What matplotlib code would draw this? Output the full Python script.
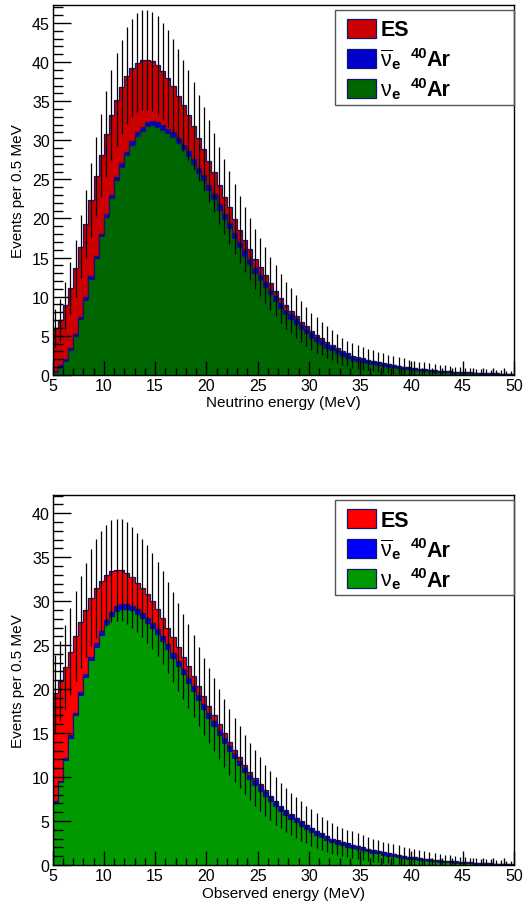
import numpy as np
import matplotlib
matplotlib.use('Agg')
import matplotlib.pyplot as plt
from matplotlib.patches import Rectangle

plt.rcParams['font.family'] = ['Liberation Sans', 'DejaVu Sans']
plt.rcParams['mathtext.fontset'] = 'custom'
plt.rcParams['mathtext.rm'] = 'Liberation Sans'
plt.rcParams['mathtext.it'] = 'Liberation Sans:italic'
plt.rcParams['mathtext.bf'] = 'Liberation Sans:bold'

# 0.5 MeV bins from 5 to 50 MeV
edges = np.arange(5.0, 50.01, 0.5)

# ---- top panel: neutrino energy ----
total_nu = [6.0, 7.0, 8.9, 11.1, 13.6, 16.4, 19.3, 22.4, 25.4, 28.1,
            30.8, 33.2, 35.2, 36.8, 38.25, 39.2, 39.9, 40.25, 40.25, 40.1,
            39.6, 38.8, 37.9, 36.9, 35.7, 34.45, 33.2, 31.8, 30.25, 28.9,
            27.3, 25.9, 24.25, 22.8, 21.4, 19.9, 18.55, 17.3, 16.1, 14.8,
            13.75, 12.75, 11.7, 10.75, 9.77, 8.9, 8.2, 7.5, 6.8, 6.2,
            5.6, 5.1, 4.65, 4.2, 3.8, 3.37, 3.0, 2.73, 2.45, 2.25,
            2.1, 1.95, 1.8, 1.65, 1.5, 1.38, 1.27, 1.16, 1.06, 0.97,
            0.88, 0.8, 0.73, 0.66, 0.6, 0.54, 0.49, 0.44, 0.40, 0.36,
            0.33, 0.30, 0.27, 0.24, 0.22, 0.20, 0.18, 0.16, 0.14, 0.13]
es_nu = [5.55, 5.8, 6.9, 7.7, 8.35, 8.95, 9.4, 9.8, 10.2, 10.05,
         10.2, 10.2, 9.9, 9.75, 9.7, 9.35, 8.9, 8.55, 7.95, 7.65,
         7.3, 6.9, 6.4, 5.9, 5.4, 5.0, 4.6, 4.2, 3.8, 3.4,
         3.05, 2.75, 2.45, 2.2, 1.95, 1.75, 1.55, 1.4, 1.25, 1.12,
         1.0, 0.9, 0.8, 0.7, 0.62, 0.55, 0.48, 0.42, 0.37, 0.33,
         0.29, 0.26, 0.23, 0.2, 0.18, 0.16, 0.14, 0.12, 0.11, 0.1,
         0.09, 0.08, 0.07, 0.065, 0.06, 0.05, 0.045, 0.04, 0.035, 0.03,
         0.03, 0.025, 0.02, 0.02, 0.02, 0.015, 0.015, 0.01, 0.01, 0.01,
         0.01, 0.01, 0.01, 0.01, 0.01, 0.01, 0.01, 0.01, 0.01, 0.01]
nuebar_nu = [0.15, 0.18, 0.2, 0.22, 0.24, 0.26, 0.28, 0.3, 0.32, 0.34,
             0.36, 0.38, 0.4, 0.42, 0.44, 0.46, 0.48, 0.5, 0.52, 0.54,
             0.55, 0.56, 0.57, 0.58, 0.59, 0.6, 0.61, 0.62, 0.63, 0.64,
             0.65, 0.65, 0.66, 0.66, 0.66, 0.66, 0.66, 0.66, 0.65, 0.65,
             0.64, 0.63, 0.62, 0.61, 0.6, 0.59, 0.58, 0.57, 0.56, 0.55,
             0.54, 0.53, 0.52, 0.51, 0.5, 0.48, 0.46, 0.44, 0.42, 0.40,
             0.38, 0.36, 0.34, 0.32, 0.30, 0.28, 0.27, 0.25, 0.24, 0.22,
             0.21, 0.2, 0.18, 0.17, 0.16, 0.15, 0.14, 0.13, 0.12, 0.11,
             0.1, 0.09, 0.085, 0.08, 0.07, 0.065, 0.06, 0.055, 0.05, 0.045]

# ---- bottom panel: observed energy ----
total_obs = [19.5, 20.9, 22.5, 24.25, 26.0, 27.6, 29.0, 30.4, 31.45, 32.3,
             32.95, 33.4, 33.55, 33.5, 33.2, 32.7, 32.1, 31.5, 30.8, 30.0,
             29.1, 28.1, 27.0, 25.9, 24.8, 23.7, 22.6, 21.5, 20.3, 19.2,
             18.1, 17.1, 16.0, 15.0, 14.0, 13.1, 12.25, 11.4, 10.6, 9.9,
             9.2, 8.5, 7.9, 7.3, 6.75, 6.25, 5.8, 5.4, 5.0, 4.6,
             4.25, 3.9, 3.6, 3.3, 3.0, 2.8, 2.6, 2.45, 2.3, 2.15,
             2.0, 1.85, 1.7, 1.6, 1.45, 1.35, 1.25, 1.15, 1.05, 0.95,
             0.87, 0.8, 0.72, 0.65, 0.6, 0.54, 0.48, 0.44, 0.40, 0.36,
             0.32, 0.29, 0.26, 0.23, 0.21, 0.19, 0.17, 0.15, 0.13, 0.12]
es_obs = [12.2, 11.3, 10.35, 9.5, 8.7, 7.95, 7.3, 6.75, 6.2, 5.7,
          5.1, 4.6, 4.15, 3.8, 3.5, 3.2, 3.0, 2.85, 2.7, 2.5,
          2.3, 2.1, 1.9, 1.75, 1.6, 1.45, 1.3, 1.15, 1.0, 0.9,
          0.8, 0.72, 0.65, 0.58, 0.52, 0.46, 0.41, 0.36, 0.32, 0.28,
          0.25, 0.22, 0.19, 0.17, 0.15, 0.13, 0.11, 0.1, 0.09, 0.08,
          0.07, 0.06, 0.055, 0.05, 0.045, 0.04, 0.035, 0.03, 0.03, 0.025,
          0.02, 0.02, 0.02, 0.02, 0.02, 0.02, 0.02, 0.02, 0.02, 0.02,
          0.01, 0.01, 0.01, 0.01, 0.01, 0.01, 0.01, 0.01, 0.01, 0.01,
          0.01, 0.01, 0.01, 0.01, 0.01, 0.01, 0.01, 0.01, 0.01, 0.01]
nuebar_obs = [0.2, 0.22, 0.25, 0.28, 0.3, 0.33, 0.36, 0.4, 0.43, 0.46,
              0.48, 0.5, 0.52, 0.54, 0.55, 0.56, 0.57, 0.58, 0.58, 0.58,
              0.58, 0.58, 0.58, 0.58, 0.58, 0.57, 0.57, 0.56, 0.56, 0.55,
              0.55, 0.54, 0.54, 0.53, 0.53, 0.52, 0.52, 0.51, 0.51, 0.5,
              0.5, 0.49, 0.48, 0.47, 0.46, 0.45, 0.44, 0.43, 0.42, 0.41,
              0.4, 0.39, 0.38, 0.37, 0.36, 0.35, 0.34, 0.33, 0.32, 0.31,
              0.3, 0.29, 0.28, 0.27, 0.26, 0.25, 0.24, 0.23, 0.22, 0.21,
              0.2, 0.19, 0.18, 0.17, 0.16, 0.15, 0.14, 0.13, 0.12, 0.11,
              0.1, 0.095, 0.09, 0.085, 0.08, 0.075, 0.07, 0.065, 0.06, 0.055]

W, H = 523, 904
fig = plt.figure(figsize=(W / 100, H / 100), dpi=100)

line_col = '#14146e'


def fx(px):
    return px / W


def fy(py):
    return 1 - py / H


def draw_panel(top, ymax, total, es, nuebar, colors, xlabel):
    ax = fig.add_axes([fx(52.5), fy(top + 370.3), fx(461.5), 370.3 / H])
    total = np.array(total)
    es = np.array(es)
    nuebar = np.array(nuebar)
    lower = total - es          # nue + nuebar
    nue = lower - nuebar

    # ROOT-style stack: each level filled from zero, drawn top first
    for vals, col in [(total, colors[0]), (lower, colors[1]), (nue, colors[2])]:
        ax.stairs(vals, edges, fill=True, color=col, lw=0)
        ax.stairs(vals, edges, color=line_col, lw=0.9)

    centers = 0.5 * (edges[:-1] + edges[1:])
    err = np.sqrt(total)
    ax.vlines(centers, total - err, total + err, color='black', lw=0.9)

    ax.set_xlim(5, 50)
    ax.set_ylim(0, ymax)
    ax.set_xticks(np.arange(5, 51, 5))
    ax.set_xticks(np.arange(5, 51, 1), minor=True)
    ax.set_yticks(np.arange(0, ymax, 5))
    ax.set_yticks(np.arange(0, ymax, 1), minor=True)
    ax.tick_params(which='both', direction='in', top=False, right=False,
                   labelsize=11.5, width=1)
    ax.tick_params(which='major', axis='y', length=13, pad=2)
    ax.tick_params(which='minor', axis='y', length=7)
    ax.tick_params(which='major', axis='x', length=10, pad=2)
    ax.tick_params(which='minor', axis='x', length=5)
    for s in ax.spines.values():
        s.set_linewidth(1)
    ax.set_xlabel(xlabel, fontsize=11, labelpad=2)
    ax.set_ylabel('Events per 0.5 MeV', fontsize=11, labelpad=5)

    # legend box
    fig.patches.append(Rectangle((fx(335), fy(top + 100)), fx(179), 95 / H,
                                 transform=fig.transFigure, fill=False,
                                 edgecolor='#555555', lw=1))
    labels = [None, r'$\overline{\mathrm{\nu}}_{\mathbf{e}}$',
              r'$\mathrm{\nu}_{\mathbf{e}}$']
    for i in range(3):
        y0 = top + 14 + 30 * i
        fig.patches.append(Rectangle((fx(347), fy(y0 + 19)), fx(29), 19 / H,
                                     transform=fig.transFigure,
                                     facecolor=colors[i], edgecolor=line_col,
                                     lw=0.9))
        yc = fy(y0 + 17)
        if i == 0:
            fig.text(fx(381), yc, 'ES', fontsize=15.5, fontweight='bold',
                     va='baseline')
        else:
            fig.text(fx(380), yc, labels[i], fontsize=15.5, va='baseline')
            fig.text(fx(411), fy(y0 + 8), '40', fontsize=10.5,
                     fontweight='bold', va='baseline')
            fig.text(fx(426), yc, 'Ar', fontsize=15.5, fontweight='bold',
                     va='baseline')
    return ax


draw_panel(5.5, 47.36, total_nu, es_nu, nuebar_nu,
           ['#cc0000', '#0000cc', '#006600'], 'Neutrino energy (MeV)')
draw_panel(495.7, 42.1, total_obs, es_obs, nuebar_obs,
           ['#ff0000', '#0000ff', '#009900'], 'Observed energy (MeV)')

fig.savefig('out.png', dpi=100)
